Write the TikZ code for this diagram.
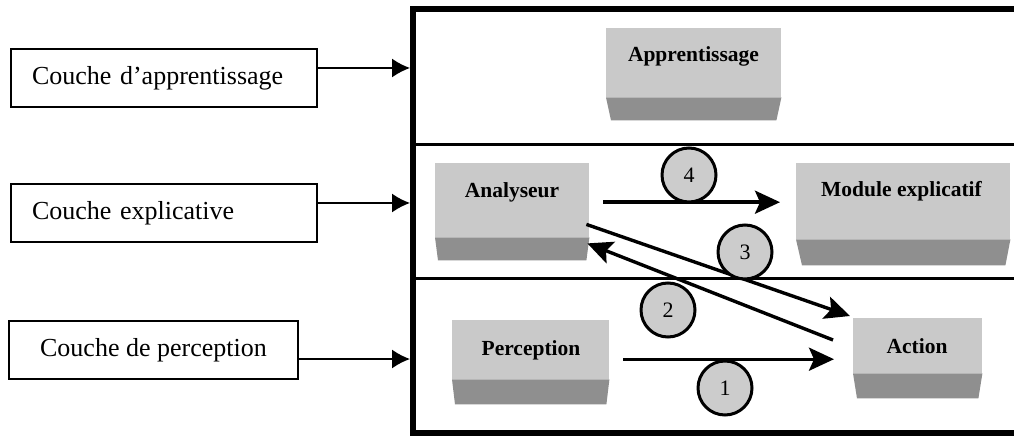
\documentclass[tikz,border=0pt]{standalone}
\usepackage{fontspec}
\setmainfont{Liberation Serif}
\usetikzlibrary{arrows.meta,calc}

\definecolor{facegray}{gray}{0.79}
\definecolor{basegray}{gray}{0.56}
\definecolor{circgray}{gray}{0.80}

\begin{document}
\begin{tikzpicture}[x=1pt,y=-1pt,
  layerbox/.style={draw, line width=1.3pt, minimum height=58pt, inner ysep=0pt,
    font=\fontsize{26}{30}\selectfont},
  feed/.style={line width=1.6pt, -{Latex[length=18pt,width=19pt]}},
  face/.style={fill=facegray, draw=none, inner sep=0pt, anchor=north west},
  basefill/.style={fill=basegray},
  blocklabel/.style={font=\fontsize{21.5}{25}\selectfont\bfseries, anchor=base, inner sep=0pt},
  flow/.style={line width=3.4pt, -{Stealth[length=25pt,width=23pt,inset=5pt]}},
  stepnum/.style={circle, draw, line width=3pt, fill=circgray, minimum size=54pt,
    inner sep=0pt, font=\fontsize{22}{25}\selectfont},
  divider/.style={line width=3pt},
]
\useasboundingbox (0,0) rectangle (1014,438);
\fill[white] (0,0) rectangle (1014,438);

% outline of the three layers
\node[inner sep=0pt, minimum width=604pt, minimum height=430pt, anchor=north west] (frame) at (410,6) {};
\draw[line width=6pt] (1014,9) -- (413,9) -- (413,433) -- (1014,433);
\draw[divider] (413,145) -- (1014,145);
\draw[divider] (413,278) -- (1014,278);

% layer names
\node[layerbox, text width=264pt, inner xsep=21pt, align=left] (lay1) at (164,78) {Couche d’apprentissage};
\node[layerbox, text width=264pt, inner xsep=21pt, align=left] (lay2) at (164,213) {Couche explicative};
\node[layerbox, minimum width=289pt] (lay3) at (153.5,350) {Couche de perception};

\draw[feed] ($(lay1.east)+(0,-10)$) coordinate (f1) -- (f1 -| frame.west);
\draw[feed] ($(lay2.east)+(0,-10)$) coordinate (f2) -- (f2 -| frame.west);
\draw[feed] ($(lay3.east)+(0,9)$) coordinate (f3) -- (f3 -| frame.west);

% modules: light face with a darker bevelled base
\node[face, minimum width=175pt, minimum height=69pt] (app) at (606,28) {};
\fill[basefill] (app.south west) -- (app.south east) -- ++(-5,23) -- ($(app.south west)+(5,23)$) -- cycle;
\node[blocklabel] (app-t) at (693.5,62) {Apprentissage};

\node[face, minimum width=154pt, minimum height=74pt] (ana) at (435,163) {};
\fill[basefill] (ana.south west) -- (ana.south east) -- ++(-3,23) -- ($(ana.south west)+(3,23)$) -- cycle;
\node[blocklabel] (ana-t) at (512,198) {Analyseur};

\node[face, minimum width=214pt, minimum height=76pt] (mod) at (796,163) {};
\fill[basefill] (mod.south west) -- (mod.south east) -- ++(-5,26) -- ($(mod.south west)+(6,26)$) -- cycle;
\node[blocklabel] (mod-t) at (901.5,197) {Module explicatif};

\node[face, minimum width=157pt, minimum height=59pt] (perc) at (452,320) {};
\fill[basefill] (perc.south west) -- (perc.south east) -- ++(-3,25) -- ($(perc.south west)+(3,25)$) -- cycle;
\node[blocklabel] (perc-t) at (531,355) {Perception};

\node[face, minimum width=129pt, minimum height=55pt] (act) at (853,318) {};
\fill[basefill] (act.south west) -- (act.south east) -- ++(-4,25) -- ($(act.south west)+(4,25)$) -- cycle;
\node[blocklabel] (act-t) at (917,353) {Action};

% flows between modules
\draw[flow] ($(ana.east)+(14,2)$) -- ($(mod.west)+(-16,1)$);
\draw[flow] ($(ana.south east)+(-3,-13)$) -- ($(act.north west)+(-3,-2)$);
\draw[flow] ($(act.north west)+(-20,22)$) -- ($(ana.south east)+(-2,6)$);
\draw[flow] ($(perc.east)+(14,9.5)$) -- ($(act.west)+(-19,13.5)$);

% step numbers
\node[stepnum] (n4) at (689,175) {4};
\node[stepnum] (n3) at (745,252) {3};
\node[stepnum] (n2) at (668,310) {2};
\node[stepnum] (n1) at (725,388) {1};
\end{tikzpicture}
\end{document}
